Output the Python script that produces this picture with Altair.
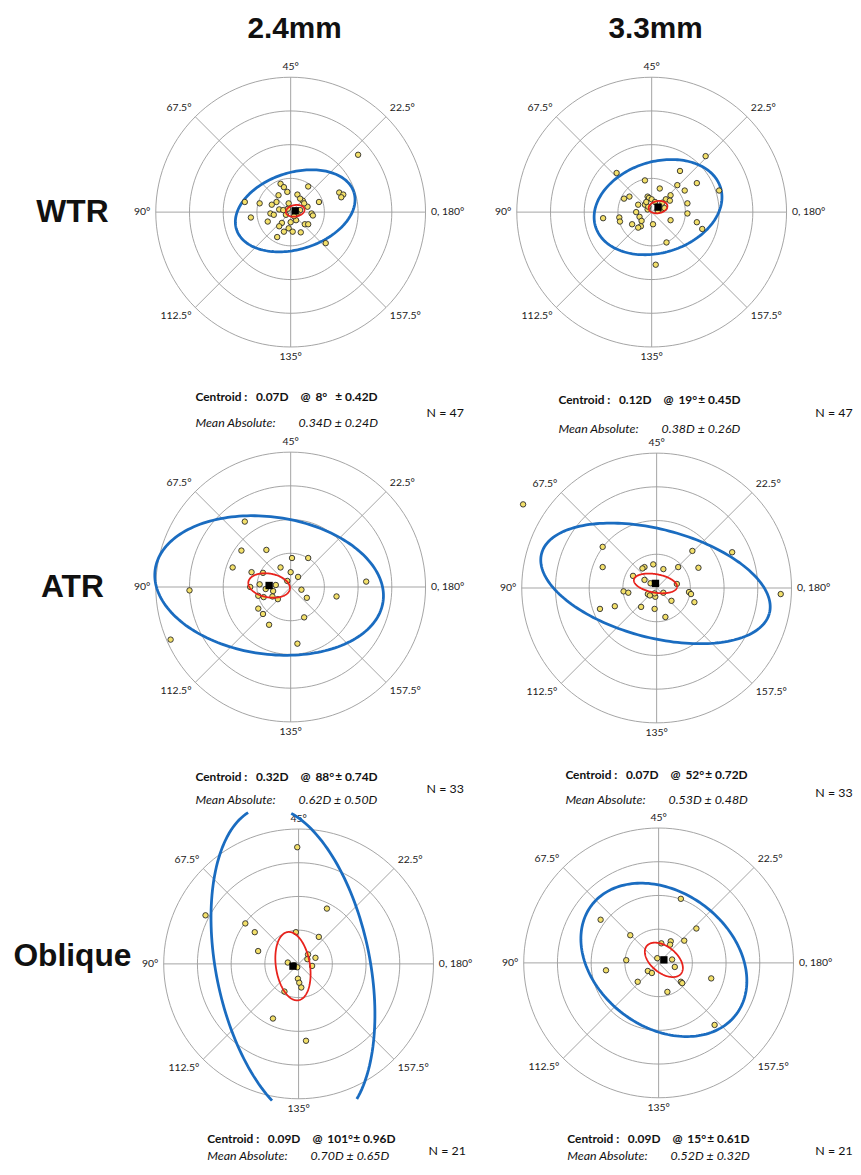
import altair as alt
import numpy as np
import pandas as pd

# ---------------- data ----------------
COL_TITLES = ["2.4mm", "3.3mm"]
ROW_TITLES = ["WTR", "ATR", "Oblique"]
RINGS = [0.5, 1.0, 1.5, 2.0]
SPOKE_ANGLES = [0, 45, 90, 135]
LABEL_ANGLES = [0, 45, 90, 135, 180, 225, 270, 315]
LABEL_TEXT = ["0, 180°", "22.5°", "45°", "67.5°", "90°", "112.5°", "135°", "157.5°"]

WTR_24_X = [1.00, 0.72, 0.78, 0.75, 0.26, -0.15, -0.10, -0.05, 0.10, 0.18, 0.14, 0.42, -0.18, -0.21, -0.28,
            -0.46, -0.68, -0.59, -0.30, -0.25, -0.17, -0.11, -0.04, 0.14, 0.25, 0.31, 0.33, 0.21, 0.26, -0.34,
            -0.13, -0.17, -0.03, 0.00, 0.08, 0.03, -0.10, 0.15, -0.20, 0.52, 0.10, -0.07, 0.20, 0.05, -0.03]
WTR_24_Y = [0.85, 0.29, 0.26, 0.22, 0.38, 0.42, 0.37, 0.30, 0.26, 0.17, 0.20, 0.15, 0.25, 0.15, 0.11,
            0.13, 0.15, -0.08, -0.02, -0.04, 0.04, 0.03, 0.05, 0.03, 0.08, -0.02, -0.05, -0.18, -0.18, -0.14,
            -0.16, -0.21, -0.24, -0.15, -0.12, -0.29, -0.29, -0.30, -0.37, -0.46, -0.02, -0.04, 0.13, -0.06, 0.13]

WTR_33_X = [0.80, 0.42, -0.52, -0.10, 0.38, 0.67, 0.49, 1.00, 0.12, 0.28, -0.06, -0.04, 0.00, 0.21, 0.27,
            -0.41, -0.33, 0.53, -0.20, -0.10, -0.23, -0.18, -0.15, -0.16, -0.20, -0.29, 0.02, 0.28, 0.53, 0.67,
            0.75, 0.22, 0.06, -0.72, -0.48, -0.47, -0.06, 0.16, 0.05, -0.05, 0.14, 0.19, 0.09, -0.08]
WTR_33_Y = [0.83, 0.61, 0.58, 0.47, 0.40, 0.43, 0.32, 0.32, 0.35, 0.25, 0.23, 0.21, 0.19, 0.19, 0.17,
            0.20, 0.23, 0.13, 0.11, 0.11, 0.00, -0.07, -0.13, -0.21, -0.23, -0.18, -0.18, -0.12, -0.02, -0.15,
            -0.25, -0.45, -0.78, -0.09, -0.08, -0.14, 0.04, 0.14, 0.15, 0.08, 0.04, 0.06, 0.02, 0.15]

ATR_24_X = [-0.68, -0.73, -0.36, 0.02, 0.26, -0.86, -0.58, -0.41, -0.15, 0.00, 0.11, -0.05, -0.46, -0.22, -0.60,
            -1.50, 1.12, 0.16, 0.24, 0.68, -0.48, -0.40, -0.27, -0.19, -0.26, -0.48, -0.41, -0.32, 0.20, 0.10,
            -1.78, -0.37]
ATR_24_Y = [0.97, 0.54, 0.55, 0.43, 0.43, 0.29, 0.22, 0.21, 0.29, 0.22, 0.15, 0.09, 0.04, 0.03, 0.00,
            -0.05, 0.08, -0.04, -0.16, -0.14, -0.13, -0.15, -0.14, -0.18, -0.06, -0.32, -0.40, -0.56, -0.45, -0.84,
            -0.78, -0.03]

ATR_33_X = [-1.98, -0.80, -0.80, 0.53, 1.12, -0.18, -0.21, -0.05, 0.10, 0.32, 0.62, -0.35, -0.18, -0.09, 0.30,
            -0.49, -0.42, -0.13, -0.02, -0.03, 0.10, 0.48, 0.51, 0.56, 0.22, -0.23, -0.03, 0.13, -0.84, -0.62,
            1.84, -0.10]
ATR_33_Y = [1.24, 0.61, 0.31, 0.55, 0.53, 0.31, 0.29, 0.35, 0.28, 0.31, 0.30, 0.18, 0.12, 0.07, 0.06,
            -0.05, -0.07, -0.09, -0.13, -0.08, -0.07, -0.06, -0.09, -0.21, -0.19, -0.28, -0.31, -0.43, -0.31, -0.27,
            -0.09, -0.11]

OBL_24_X = [-0.02, 0.42, -1.38, -0.79, -0.65, -0.04, 0.30, -0.60, 0.14, 0.25, 0.13, -0.16, 0.20, -0.02, -0.01,
            0.01, 0.04, -0.21, -0.38, 0.11, -0.07]
OBL_24_Y = [1.73, 0.82, 0.72, 0.60, 0.47, 0.47, 0.40, 0.19, 0.14, 0.09, 0.07, 0.02, -0.03, -0.05, -0.22,
            -0.28, -0.35, -0.41, -0.81, -1.14, -0.02]

OBL_33_X = [0.33, -0.86, 0.56, -0.42, 0.04, 0.18, 0.17, 0.38, -0.02, 0.20, 0.24, -0.48, -0.78, -0.16, -0.10,
            -0.31, 0.33, 0.13, 0.78, 0.83, 0.35]
OBL_33_Y = [0.95, 0.64, 0.51, 0.41, 0.29, 0.32, 0.27, 0.33, 0.07, 0.05, -0.06, 0.04, -0.11, -0.12, -0.15,
            -0.28, -0.28, -0.43, -0.23, -0.92, -0.30]

POINTS_X = [WTR_24_X, WTR_33_X, ATR_24_X, ATR_33_X, OBL_24_X, OBL_33_X]
POINTS_Y = [WTR_24_Y, WTR_33_Y, ATR_24_Y, ATR_33_Y, OBL_24_Y, OBL_33_Y]

CENT_MAG = [0.07, 0.12, 0.32, 0.07, 0.09, 0.09]
CENT_AXIS = [8, 19, 88, 52, 101, 15]
CENT_SD = [0.42, 0.45, 0.74, 0.72, 0.96, 0.61]
MEAN_ABS = [0.34, 0.38, 0.62, 0.53, 0.70, 0.52]
MEAN_ABS_SD = [0.24, 0.26, 0.50, 0.48, 0.65, 0.32]
N_EYES = [47, 47, 33, 33, 21, 21]

# ellipses: semi-axes (D) and orientation on the double-angle plot (deg)
BLUE_A = [0.913, 0.971, 1.706, 1.746, 2.40, 1.343]
BLUE_B = [0.569, 0.674, 1.017, 0.803, 1.14, 1.002]
BLUE_ANG = [17.5, 17.5, -8.0, -14.7, 101.5, -37.0]
RED_A = [0.14, 0.14, 0.312, 0.324, 0.512, 0.327]
RED_B = [0.085, 0.09, 0.176, 0.137, 0.252, 0.194]
RED_ANG = [10.0, 10.0, -10.0, -10.0, 99.0, -39.0]

# ---------------- layout / style ----------------
K = 68.0                      # px per dioptre
COL_X = [0, 470, 845]
ROW_Y = [0, 424, 804, 1159]
CENTERS = [(285, 201), (649, 201), (285, 579), (654, 580), (293, 959), (656, 958)]
CLIP_Y = (-2.03, 2.25)
LABEL_R = 2.08
LABEL_ALIGN = [("left", "middle"), ("left", "bottom"), ("center", "bottom"), ("right", "bottom"),
               ("right", "middle"), ("right", "top"), ("center", "top"), ("left", "top")]
# text annotation anchors (canvas px): centroid x,y ; mean y ; N x,y
TXT_POS = [
    (189, 387, 414, 422, 404),
    (555, 390, 420, 814, 404),
    (189, 771, 794, 422, 783),
    (562, 769, 794, 814, 787),
    (201, 1136, 1153, 424, 1148),
    (564, 1136, 1153, 814, 1148),
]
CENT_OFFS = [0, 61, 106, 121, 141]
MEAN_OFF = 104
TITLE_POS = [(289, 16), (653, 16)]
ROWLAB_X = 65
ROWLAB_Y = [201, 579, 951]

GRID = "#9a9a9a"
BLUE = "#1a6cc0"
RED = "#e8221c"
FILL = "#f3e06a"
LBL_FONT = "Lato"
HEAD_FONT = "Liberation Sans"


def ellipse_df(cx, cy, a, b, ang, clip=None):
    t = np.arange(0, 361, 2.0)
    tr = np.radians(t)
    ph = np.radians(ang)
    x = cx + a * np.cos(tr) * np.cos(ph) - b * np.sin(tr) * np.sin(ph)
    y = cy + a * np.cos(tr) * np.sin(ph) + b * np.sin(tr) * np.cos(ph)
    df = pd.DataFrame({"t": t, "x": x, "y": y})
    if clip is not None:
        inside = (df.y >= clip[0]) & (df.y <= clip[1])
        df["seg"] = (inside != inside.shift(fill_value=False)).cumsum()
        df = df[inside]
    else:
        df["seg"] = 0
    return df


def panel(p):
    r, c = divmod(p, 2)
    left, right = COL_X[c], COL_X[c + 1]
    top, bottom = ROW_Y[r], ROW_Y[r + 1]
    W, H = right - left, bottom - top
    cxl, cyl = CENTERS[p][0] - left, CENTERS[p][1] - top
    xs = alt.Scale(domain=[-cxl / K, (W - cxl) / K], nice=False, zero=False)
    ys = alt.Scale(domain=[-(H - cyl) / K, cyl / K], nice=False, zero=False)

    def X(f):
        return alt.X(f, type="quantitative", scale=xs, axis=None)

    def Y(f):
        return alt.Y(f, type="quantitative", scale=ys, axis=None)

    layers = []
    # rings
    t = np.arange(0, 361, 3.0)
    ring_df = pd.concat([pd.DataFrame({"t": t, "ring": rr,
                                       "x": rr * np.cos(np.radians(t)),
                                       "y": rr * np.sin(np.radians(t))}) for rr in RINGS])
    layers.append(alt.Chart(ring_df).mark_line(color=GRID, strokeWidth=0.9).encode(
        x=X("x"), y=Y("y"), detail="ring:N", order="t:Q"))
    # spokes
    sp = pd.DataFrame({"a": SPOKE_ANGLES})
    layers.append(alt.Chart(sp).transform_calculate(
        x=f"-{RINGS[-1]}*cos(datum.a*PI/180)", y=f"-{RINGS[-1]}*sin(datum.a*PI/180)",
        x2=f"{RINGS[-1]}*cos(datum.a*PI/180)", y2=f"{RINGS[-1]}*sin(datum.a*PI/180)",
    ).mark_rule(color=GRID, strokeWidth=0.9).encode(x=X("x"), y=Y("y"), x2="x2:Q", y2="y2:Q"))
    # spoke labels
    lab = pd.DataFrame({"ang": LABEL_ANGLES, "text": LABEL_TEXT})
    for i, (al, bl) in enumerate(LABEL_ALIGN):
        layers.append(alt.Chart(lab.iloc[[i]]).transform_calculate(
            x=f"{LABEL_R}*cos(datum.ang*PI/180)", y=f"{LABEL_R}*sin(datum.ang*PI/180)"
        ).mark_text(align=al, baseline=bl, font=LBL_FONT, fontSize=10.5, color="#222").encode(
            x=X("x"), y=Y("y"), text="text:N"))
    # centroid
    ccx = CENT_MAG[p] * np.cos(np.radians(2 * CENT_AXIS[p]))
    ccy = CENT_MAG[p] * np.sin(np.radians(2 * CENT_AXIS[p]))
    # blue ellipse
    bdf = ellipse_df(ccx, ccy, BLUE_A[p], BLUE_B[p], BLUE_ANG[p], CLIP_Y)
    layers.append(alt.Chart(bdf).mark_line(color=BLUE, strokeWidth=2.8).encode(
        x=X("x"), y=Y("y"), detail="seg:N", order="t:Q"))
    # points
    pts = pd.DataFrame({"x": POINTS_X[p], "y": POINTS_Y[p]})
    layers.append(alt.Chart(pts).mark_circle(size=30, color=FILL, stroke="#2a2a2a",
                                             strokeWidth=0.9, opacity=1).encode(x=X("x"), y=Y("y")))
    # red ellipse
    rdf = ellipse_df(ccx, ccy, RED_A[p], RED_B[p], RED_ANG[p])
    layers.append(alt.Chart(rdf).mark_line(color=RED, strokeWidth=1.8).encode(
        x=X("x"), y=Y("y"), detail="seg:N", order="t:Q"))
    # centroid square
    cdf = pd.DataFrame({"mag": [CENT_MAG[p]], "axis": [CENT_AXIS[p]]})
    layers.append(alt.Chart(cdf).transform_calculate(
        x="datum.mag*cos(2*datum.axis*PI/180)", y="datum.mag*sin(2*datum.axis*PI/180)"
    ).mark_square(size=55, color="black", opacity=1).encode(x=X("x"), y=Y("y")))

    # text annotations
    tx, ty, my, nx, ny = TXT_POS[p]

    def txt(s, x, y, **kw):
        return alt.Chart(pd.DataFrame({"s": [s]})).mark_text(color="#111", **kw).encode(
            text="s:N", x=alt.value(x - left), y=alt.value(y - top))

    pieces = ["Centroid :", f"{CENT_MAG[p]:.2f}D", "@", f"{CENT_AXIS[p]}°", f"± {CENT_SD[p]:.2f}D"]
    offs = list(CENT_OFFS)
    if CENT_AXIS[p] >= 100:
        offs[4] += 6
    for s, off in zip(pieces, offs):
        layers.append(txt(s, tx + off, ty, align="left", baseline="middle", font=LBL_FONT,
                          fontSize=12, fontWeight="bold"))
    layers.append(txt("Mean Absolute:", tx, my, align="left", baseline="middle", font=LBL_FONT,
                      fontSize=12.5, fontStyle="italic"))
    layers.append(txt(f"{MEAN_ABS[p]:.2f}D ± {MEAN_ABS_SD[p]:.2f}D", tx + MEAN_OFF, my, align="left",
                      baseline="middle", font=LBL_FONT, fontSize=12.5, fontStyle="italic"))
    layers.append(txt(f"N = {N_EYES[p]}", nx, ny, align="left", baseline="middle", font=LBL_FONT,
                      fontSize=12.5))
    if r == 0:
        layers.append(txt(COL_TITLES[c], TITLE_POS[c][0], TITLE_POS[c][1], align="center",
                          baseline="middle", font=HEAD_FONT, fontSize=30, fontWeight="bold"))
    if c == 0:
        layers.append(txt(ROW_TITLES[r], ROWLAB_X, ROWLAB_Y[r], align="center", baseline="middle",
                          font=HEAD_FONT, fontSize=32, fontWeight="bold"))

    return alt.layer(*layers).properties(width=W, height=H)


chart = alt.concat(*[panel(p) for p in range(6)], columns=2, spacing=0, bounds="flush").resolve_scale(
    x="independent", y="independent").properties(padding=0).configure_view(stroke=None)

chart.save("out.html", embed_options={"renderer": "svg", "actions": False})
